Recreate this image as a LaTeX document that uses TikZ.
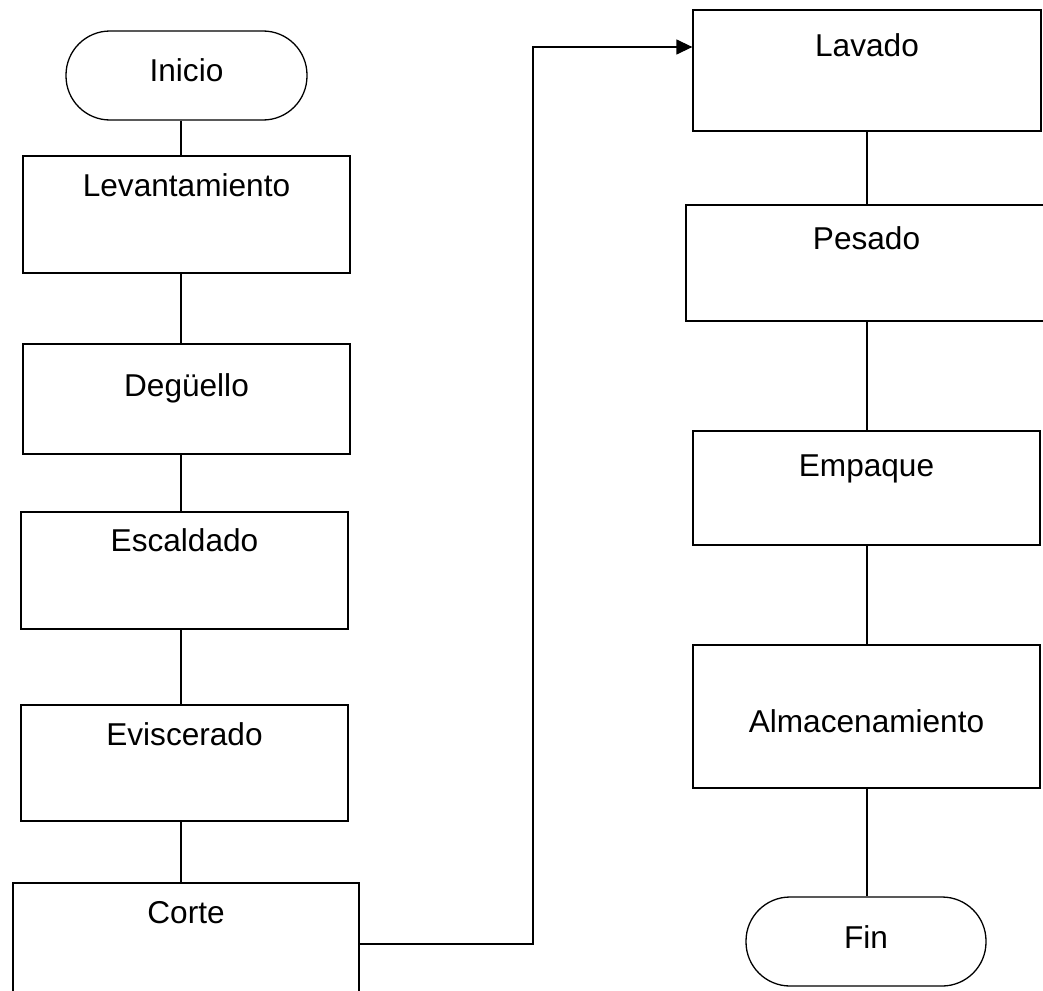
\documentclass[tikz,border=0pt]{standalone}
\usepackage{fontspec}
\setmainfont{Liberation Sans}
\usetikzlibrary{arrows.meta}
\begin{document}
\begin{tikzpicture}[x=1pt,y=-1pt,
  every node/.style={line width=1.3pt},
  box/.style={draw, line width=1.3pt, rectangle, inner sep=0pt},
  term/.style={draw, line width=1.3pt, rectangle, rounded corners=44pt, inner sep=0pt, minimum width=240pt, minimum height=89pt},
  lab/.style={anchor=base, inner sep=0pt, font=\fontsize{31.6}{38}\selectfont},
  conn/.style={line width=1.3pt},
  arr/.style={line width=1.3pt, -{Triangle[length=16pt,width=15pt]}}
]
\clip (0,0) rectangle (1043,990);
\fill[white] (0,0) rectangle (1043,990);
% left column
\node[term, minimum width=241pt, label={[lab,yshift=-51pt]north:Inicio}] (ini) at (186.5,75.5) {};
\node[box, minimum width=327pt, minimum height=117pt, label={[lab,yshift=-41pt]north:Levantamiento}] (lev) at (186.5,214.5) {};
\node[box, minimum width=327pt, minimum height=110pt, label={[lab,yshift=-53pt]north:Degüello}] (deg) at (186.5,399) {};
\node[box, minimum width=327pt, minimum height=117pt, label={[lab,yshift=-40pt]north:Escaldado}] (esc) at (184.5,570.5) {};
\node[box, minimum width=327pt, minimum height=116pt, label={[lab,yshift=-41pt]north:Eviscerado}] (evi) at (184.5,763) {};
\node[box, minimum width=346pt, minimum height=130pt, label={[lab,yshift=-41pt]north:Corte}] (cor) at (186,948) {};
% right column
\node[box, minimum width=348pt, minimum height=121pt, label={[lab,yshift=-47pt]north:Lavado}] (lav) at (867,70.5) {};
\node[box, minimum width=361pt, minimum height=116pt, label={[lab,yshift=-45pt]north:Pesado}] (pes) at (866.5,263) {};
\node[box, minimum width=347pt, minimum height=114pt, label={[lab,yshift=-46pt]north:Empaque}] (emp) at (866.5,488) {};
\node[box, minimum width=347pt, minimum height=143pt, label={[lab,yshift=-88pt]north:Almacenamiento}] (alm) at (866.5,716.5) {};
\node[term, label={[lab,yshift=-52pt]north:Fin}] (fin) at (866,941.5) {};
% connector positions
\coordinate (lx) at (181,0);
\coordinate (rx) at (867,0);
\coordinate (k1) at (533,944);
\coordinate (k2) at (533,47);
% left connectors
\draw[conn] (ini.south -| lx) -- (lev.north -| lx);
\draw[conn] (lev.south -| lx) -- (deg.north -| lx);
\draw[conn] (deg.south -| lx) -- (esc.north -| lx);
\draw[conn] (esc.south -| lx) -- (evi.north -| lx);
\draw[conn] (evi.south -| lx) -- (cor.north -| lx);
% cross connector
\draw[arr] (cor.east |- k1) -- (k1) -- (k2) -- (lav.west |- k2);
% right connectors
\draw[conn] (lav.south -| rx) -- (pes.north -| rx);
\draw[conn] (pes.south -| rx) -- (emp.north -| rx);
\draw[conn] (emp.south -| rx) -- (alm.north -| rx);
\draw[conn] (alm.south -| rx) -- (fin.north -| rx);
\end{tikzpicture}
\end{document}
